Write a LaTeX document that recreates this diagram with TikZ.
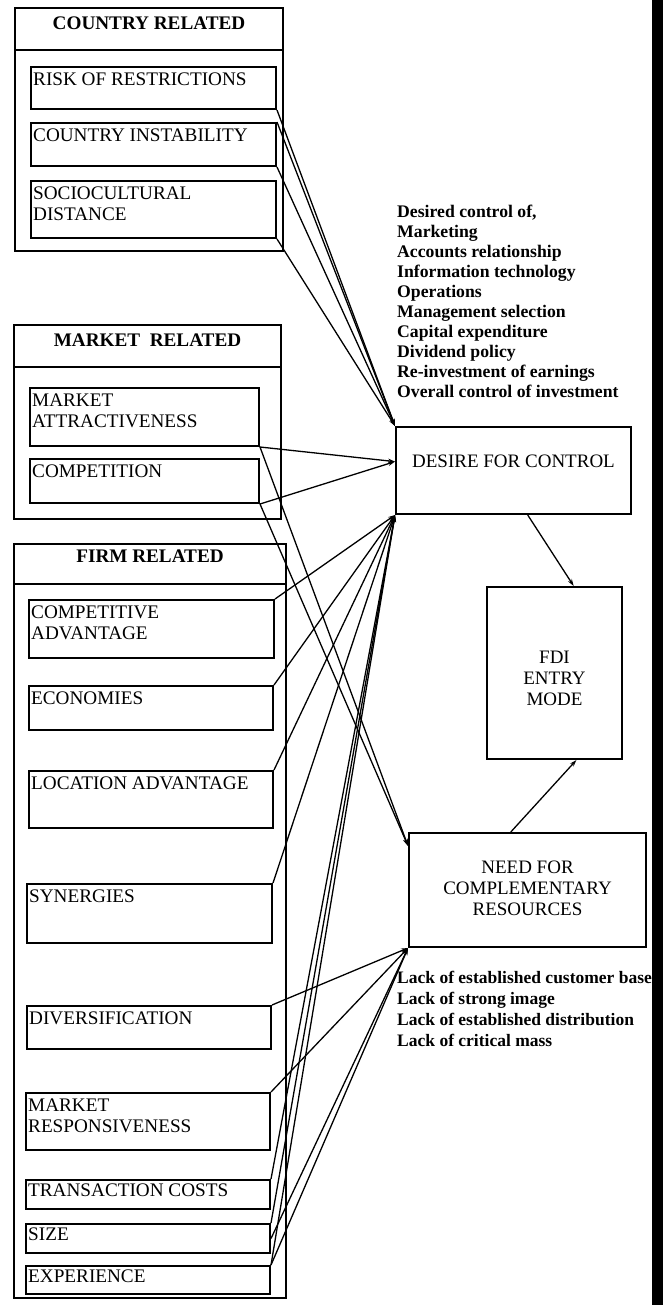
\documentclass[tikz,border=0pt]{standalone}
\usepackage{fontspec}
\setmainfont{Liberation Serif}
\usetikzlibrary{calc,arrows.meta}

\begin{document}
\begin{tikzpicture}[x=1pt,y=-1pt,
  boxline/.style={draw, line width=2pt, rectangle, inner sep=0pt, anchor=north west},
  itemfont/.style={font=\fontsize{19.2}{21}\selectfont},
  centerfont/.style={font=\fontsize{19}{21}\selectfont},
  titlefont/.style={font=\bfseries\fontsize{19.2}{21}\selectfont},
  itemlbl/.style={anchor=north west, inner sep=0pt, xshift=3pt, yshift=-7pt, align=left, itemfont},
  titlelbl/.style={anchor=north, inner sep=0pt, yshift=-10pt, titlefont},
  listtext/.style={anchor=north west, inner sep=0pt, align=left},
  conn/.style={line width=1.3pt, -{Stealth[length=7pt,width=4.5pt]}},
  sep/.style={line width=2pt}
]
\useasboundingbox[fill=white] (0,0) rectangle (663,1305);

% ---------- country related ----------
\node[boxline, minimum width=268pt, minimum height=243pt,
  label={[titlelbl]north:COUNTRY RELATED}] (country) at (14,7) {};
\draw[sep] ($(country.north west)+(0,43)$) -- ($(country.north east)+(0,43)$);
\node[boxline, minimum width=245pt, minimum height=42pt,
  label={[itemlbl]north west:RISK OF RESTRICTIONS}] (risk) at (30,66) {};
\node[boxline, minimum width=245pt, minimum height=43pt,
  label={[itemlbl]north west:COUNTRY INSTABILITY}] (inst) at (30,122) {};
\node[boxline, minimum width=245pt, minimum height=57pt,
  label={[itemlbl]north west:SOCIOCULTURAL\\DISTANCE}] (socio) at (30,180) {};

% ---------- market related ----------
\node[boxline, minimum width=267pt, minimum height=194pt,
  label={[titlelbl]north:MARKET\ \ RELATED}] (market) at (13,324) {};
\draw[sep] ($(market.north west)+(0,43)$) -- ($(market.north east)+(0,43)$);
\node[boxline, minimum width=229pt, minimum height=58pt,
  label={[itemlbl]north west:MARKET\\ATTRACTIVENESS}] (attr) at (29,387) {};
\node[boxline, minimum width=229pt, minimum height=44pt,
  label={[itemlbl]north west:COMPETITION}] (comp) at (29,458) {};

% ---------- firm related ----------
\node[boxline, minimum width=272pt, minimum height=754pt,
  label={[titlelbl, yshift=3pt]north:FIRM RELATED}] (firm) at (13,543) {};
\draw[sep] ($(firm.north west)+(0,41)$) -- ($(firm.north east)+(0,41)$);
\node[boxline, minimum width=245pt, minimum height=58pt,
  label={[itemlbl]north west:COMPETITIVE\\ADVANTAGE}] (cadv) at (28,599) {};
\node[boxline, minimum width=244pt, minimum height=44pt,
  label={[itemlbl]north west:ECONOMIES}] (econ) at (28,685) {};
\node[boxline, minimum width=244pt, minimum height=57pt,
  label={[itemlbl]north west:LOCATION ADVANTAGE}] (loc) at (28,770) {};
\node[boxline, minimum width=245pt, minimum height=59pt,
  label={[itemlbl]north west:SYNERGIES}] (syn) at (26,883) {};
\node[boxline, minimum width=244pt, minimum height=43pt,
  label={[itemlbl]north west:DIVERSIFICATION}] (div) at (26,1005) {};
\node[boxline, minimum width=244pt, minimum height=57pt,
  label={[itemlbl]north west:MARKET\\RESPONSIVENESS}] (mr) at (25,1092) {};
\node[boxline, minimum width=244pt, minimum height=29pt,
  label={[itemlbl, yshift=2pt]north west:TRANSACTION COSTS}] (tc) at (25,1179) {};
\node[boxline, minimum width=244pt, minimum height=29pt,
  label={[itemlbl, yshift=2pt]north west:SIZE}] (size) at (25,1223) {};
\node[boxline, minimum width=244pt, minimum height=28pt,
  label={[itemlbl, yshift=2pt]north west:EXPERIENCE}] (exp) at (25,1265) {};

% ---------- outcome boxes ----------
\node[boxline, minimum width=235pt, minimum height=87pt,
  label={[anchor=north, inner sep=0pt, yshift=-29pt, centerfont]north:DESIRE FOR CONTROL}] (dfc) at (395,426) {};
\node[boxline, minimum width=135pt, minimum height=172pt,
  label={[anchor=north, inner sep=0pt, yshift=-65pt, align=center, centerfont]north:FDI\\ENTRY\\MODE}] (fdi) at (486,586) {};
\node[boxline, minimum width=237pt, minimum height=114pt,
  label={[anchor=north, inner sep=0pt, yshift=-29pt, align=center, centerfont]north:NEED FOR\\COMPLEMENTARY\\RESOURCES}] (nfcr) at (408,832) {};

% ---------- descriptive lists ----------
\node[listtext, font=\bfseries\fontsize{17.7}{20}\selectfont] (ctrl) at (397,205)
  {Desired control of,\\Marketing\\Accounts relationship\\Information technology\\Operations\\Management selection\\Capital expenditure\\Dividend policy\\Re-investment of earnings\\Overall control of investment};
\node[listtext, font=\bfseries\fontsize{17.5}{21}\selectfont] (lack) at (397,971)
  {Lack of established customer base\\Lack of strong image\\Lack of established distribution\\Lack of critical mass};

% ---------- entry points on the outcome boxes ----------
\coordinate (dfcin) at ($(dfc.north west)!0.4!(dfc.south west)$);
\coordinate (nfcrin) at ($(nfcr.north west)!0.12!(nfcr.south west)$);
\coordinate (dfcout) at ($(dfc.south west)!0.56!(dfc.south east)$);
\coordinate (fditop) at ($(fdi.north west)!0.64!(fdi.north east)$);
\coordinate (fdibot) at ($(fdi.south west)!0.66!(fdi.south east)$);
\coordinate (nfcrout) at ($(nfcr.north west)!0.43!(nfcr.north east)$);

% ---------- connectors ----------
\draw[conn] (risk.south east) -- (dfc.north west);
\draw[conn] (inst.north east) -- (dfc.north west);
\draw[conn] (inst.south east) -- (dfc.north west);
\draw[conn] (socio.south east) -- (dfc.north west);

\draw[conn] (attr.south east) -- (dfcin);
\draw[conn] (comp.south east) -- (dfcin);
\draw[conn] (attr.south east) -- (nfcrin);
\draw[conn] (comp.south east) -- (nfcrin);

\draw[conn] (cadv.north east) -- (dfc.south west);
\draw[conn] (econ.north east) -- (dfc.south west);
\draw[conn] (loc.north east) -- (dfc.south west);
\draw[conn] (syn.north east) -- (dfc.south west);
\draw[conn] (tc.north east) -- (dfc.south west);
\draw[conn] (size.north east) -- (dfc.south west);
\draw[conn] (exp.north east) -- (dfc.south west);

\draw[conn] (div.north east) -- (nfcr.south west);
\draw[conn] (mr.north east) -- (nfcr.south west);
\draw[conn] (size.east) -- (nfcr.south west);
\draw[conn] (exp.north east) -- (nfcr.south west);

\draw[conn] (dfcout) -- (fditop);
\draw[conn] (nfcrout) -- (fdibot);

% ---------- dark right margin ----------
\fill[black] (652,0) rectangle (663,1305);
\end{tikzpicture}
\end{document}
